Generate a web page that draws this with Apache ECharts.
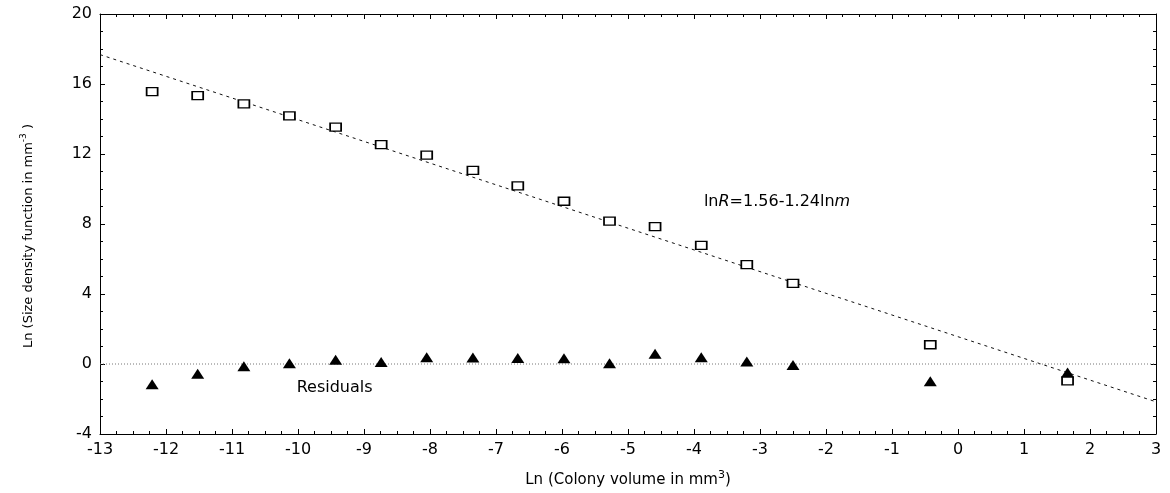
<!DOCTYPE html>
<html>
<head>
  <meta charset="utf-8">
  <title>Colony size density</title>
  <script src="https://cdn.jsdelivr.net/npm/echarts@6/dist/echarts.min.js"></script>
  <style>
    html, body { margin: 0; padding: 0; background: #fff; }
    #main { width: 1170px; height: 493px; }
  </style>
</head>
<body>
<div id="main"></div>
<script type="text/javascript">
// ln colony volume (x) for each size class
var lnVolume = [-12.21, -11.52, -10.82, -10.13, -9.43, -8.74, -8.05, -7.35, -6.67,
  -5.97, -5.28, -4.59, -3.89, -3.20, -2.50, -0.42, 1.66];
// ln size density function (squares)
var lnDensity = [15.56, 15.33, 14.87, 14.18, 13.54, 12.54, 11.93, 11.06, 10.18,
  9.30, 8.16, 7.85, 6.78, 5.68, 4.61, 1.10, -0.96];
// residuals of the fit (triangles)
var residuals = [-1.16, -0.55, -0.13, 0.04, 0.24, 0.11, 0.38, 0.37, 0.35,
  0.33, 0.04, 0.58, 0.39, 0.14, -0.06, -0.99, -0.48];
// fitted line lnR = 1.56 - 1.24 ln m
var fitIntercept = 1.56;
var fitSlope = -1.24;
var xRange = [-13, 3];
var yRange = [-4, 20];

var FONT = 'DejaVu Sans';

var pair = function (xs, ys) {
  var res = [];
  for (var i = 0; i < xs.length; i++) {
    res.push([xs[i], ys[i]]);
  }
  return res;
};

var fitLine = xRange.map(function (x) {
  return [x, fitIntercept + fitSlope * x];
});

var myChart = echarts.init(document.getElementById('main'));

function frameAxis(range, interval, withLabels, extra) {
  var ax = {
    type: 'value',
    min: range[0],
    max: range[1],
    interval: interval,
    splitLine: { show: false },
    axisLine: { show: true, onZero: false, lineStyle: { color: '#000', width: 1 } },
    axisTick: { show: true, inside: true, length: 5, lineStyle: { color: '#000' } },
    minorTick: { show: true, splitNumber: 4, length: 3, lineStyle: { color: '#000' } },
    axisLabel: {
      show: withLabels,
      color: '#000',
      fontFamily: FONT,
      fontSize: 16,
      margin: 8
    }
  };
  for (var k in extra) {
    ax[k] = extra[k];
  }
  return ax;
}

var option = {
  animation: false,
  backgroundColor: '#fff',
  grid: { left: 100, right: 14, top: 14, bottom: 59 },
  xAxis: [
    frameAxis(xRange, 1, true, {
      position: 'bottom',
      name: '{n|Ln (Colony volume in mm}{sup|3}{n|)}',
      nameLocation: 'middle',
      nameGap: 36,
      nameTextStyle: {
        rich: {
          n: { fontFamily: FONT, fontSize: 15, color: '#000', lineHeight: 21 },
          sup: { fontFamily: FONT, fontSize: 11, color: '#000', verticalAlign: 'top' }
        }
      }
    }),
    frameAxis(xRange, 1, false, { position: 'top' })
  ],
  yAxis: [
    frameAxis(yRange, 4, true, {
      position: 'left',
      name: '{n|Ln (Size density function in mm}{sup|-3}{n| )}{pad|}',
      nameLocation: 'middle',
      nameGap: 62,
      nameTextStyle: {
        rich: {
          n: { fontFamily: FONT, fontSize: 13, color: '#000', lineHeight: 19 },
          sup: { fontFamily: FONT, fontSize: 9, color: '#000', verticalAlign: 'top' },
          pad: { width: 24 }
        }
      }
    }),
    frameAxis(yRange, 4, false, { position: 'right' })
  ],
  series: [
    {
      type: 'line',
      data: fitLine,
      symbol: 'none',
      silent: true,
      lineStyle: { color: '#111', width: 1, type: [3, 4] },
      z: 1
    },
    {
      type: 'line',
      data: xRange.map(function (x) { return [x, 0]; }),
      symbol: 'none',
      silent: true,
      lineStyle: { color: '#777', width: 1, type: [1, 2] },
      z: 1
    },
    {
      type: 'scatter',
      data: pair(lnVolume, lnDensity),
      symbol: 'rect',
      symbolSize: [11, 8],
      itemStyle: { color: '#fff', borderColor: '#000', borderWidth: 1.5, opacity: 1 },
      z: 3
    },
    {
      type: 'scatter',
      data: pair(lnVolume, residuals),
      symbol: 'triangle',
      symbolSize: [13, 10],
      itemStyle: { color: '#000', opacity: 1 },
      z: 4
    },
    {
      type: 'scatter',
      symbolSize: 0,
      silent: true,
      itemStyle: { opacity: 1 },
      data: [[-3.85, 9.26]],
      label: {
        show: true,
        position: 'right',
        distance: 0,
        formatter: '{n|ln}{i|R}{n|=1.56-1.24ln}{i|m}',
        rich: {
          n: { fontFamily: FONT, fontSize: 16, color: '#000' },
          i: { fontFamily: FONT, fontSize: 16, color: '#000', fontStyle: 'italic' }
        }
      }
    },
    {
      type: 'scatter',
      symbolSize: 0,
      silent: true,
      itemStyle: { opacity: 1 },
      data: [[-10.02, -1.34]],
      label: {
        show: true,
        position: 'right',
        distance: 0,
        formatter: 'Residuals',
        fontFamily: FONT,
        fontSize: 16,
        color: '#000'
      }
    }
  ]
};

myChart.setOption(option);
</script>
</body>
</html>
